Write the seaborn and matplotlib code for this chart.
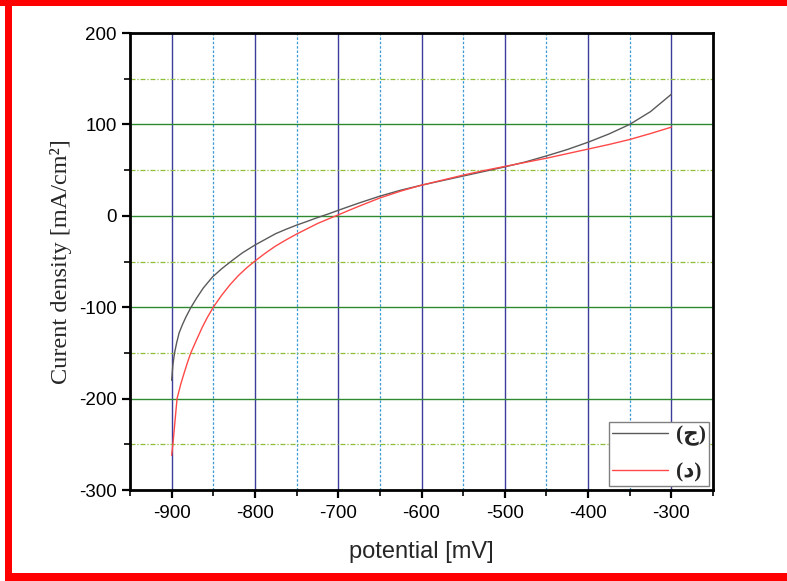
import numpy as np
import pandas as pd
import matplotlib
matplotlib.use("Agg")
import matplotlib.pyplot as plt
from matplotlib.patches import Rectangle
from matplotlib.ticker import MultipleLocator
import seaborn as sns

# ---- data ----
x_jeem = [-900, -898.5, -896.5, -894, -891, -887, -883, -877, -870, -862, -851, -840,
          -827.5, -815, -800, -787, -775, -762, -750, -737, -725, -712, -700, -675,
          -650, -625, -600, -575, -550, -525, -500, -475, -450, -425, -400, -375,
          -350, -325, -300]
y_jeem = [-180, -163, -150, -139, -128, -119, -111, -100.5, -90, -79, -67, -58,
          -49, -40.5, -32, -25.5, -19.5, -14.5, -10.2, -6, -2, 2, 6, 14,
          21.5, 28, 33.5, 38.5, 43.5, 48.5, 53.5, 59, 65.5, 72.5, 80.5, 89.5,
          100, 114, 133]

x_dal = [-900, -898.5, -896, -893.5, -889, -885, -881, -877, -870, -863, -857, -850,
         -840, -830, -820, -810, -800, -787, -775, -762, -750, -737, -725, -712,
         -700, -687, -675, -650, -625, -600, -575, -550, -525, -500, -475, -450,
         -425, -400, -375, -350, -325, -300]
y_dal = [-262, -250, -225, -200, -184, -172, -160.5, -150, -135.5, -121.5, -111, -100,
         -87, -75.5, -65.5, -57, -49.5, -40.5, -33, -26, -20, -14, -8.5, -3.5,
         1, 6, 10.5, 19.5, 27, 33.5, 39, 44.5, 49.5, 54, 58.5, 63,
         68, 73, 78, 83.5, 90, 97]

labels = ["(ج)", "(د)"]
colors = ["#5a5a5a", "#ff4848"]

df = pd.concat([
    pd.DataFrame({"potential": x_jeem, "current": y_jeem, "series": labels[0]}),
    pd.DataFrame({"potential": x_dal, "current": y_dal, "series": labels[1]}),
], ignore_index=True)

sns.set_style("white")
plt.rcParams["axes.unicode_minus"] = False
W, H = 787, 581
fig = plt.figure(figsize=(W / 100, H / 100), dpi=100)
fig.patch.set_facecolor("white")
ax = fig.add_axes([130 / W, 1 - 490 / H, (713 - 130) / W, (490 - 33) / H])

sns.lineplot(data=df, x="potential", y="current", hue="series", palette=colors,
             hue_order=labels, linewidth=1.0, ax=ax, sort=False, estimator=None)

ax.set_xlim(-950, -250)
ax.set_ylim(-300, 200)
ax.xaxis.set_major_locator(MultipleLocator(100))
ax.xaxis.set_minor_locator(MultipleLocator(50))
ax.yaxis.set_major_locator(MultipleLocator(100))
ax.yaxis.set_minor_locator(MultipleLocator(50))

# grid
ax.grid(False)
ax.set_axisbelow(True)
ax.xaxis.grid(True, which="major", color="#3c3c9c", linewidth=1.0)
ax.xaxis.grid(True, which="minor", color="#3a9ad6", linewidth=0.9, linestyle=(0, (2, 1.5)))
ax.yaxis.grid(True, which="major", color="#2f8a2f", linewidth=1.0)
ax.yaxis.grid(True, which="minor", color="#8fbf3a", linewidth=0.9, linestyle=(0, (4, 1.5, 1, 1.5)))

for s in ax.spines.values():
    s.set_visible(True)
    s.set_color("black")
    s.set_linewidth(2.0)

ax.tick_params(which="major", direction="out", length=6, width=1.6, labelsize=13.5,
               bottom=True, left=True, top=False, right=False, colors="black")
ax.tick_params(axis="x", which="major", pad=5)
ax.tick_params(which="minor", direction="out", length=4, width=1.4,
               bottom=True, left=True, top=False, right=False)
for lab in ax.get_xticklabels() + ax.get_yticklabels():
    lab.set_family("Liberation Sans")

ax.set_xlabel("potential [mV]", fontsize=17, family="Liberation Sans")
ax.xaxis.label.set_va("center")
ax.xaxis.set_label_coords(0.5, -(552 - 490) / 457)
ax.set_ylabel("Curent density [mA/cm²]", fontsize=17.5, family="Liberation Serif")
ax.yaxis.label.set_va("center")
ax.yaxis.set_label_coords(-(130 - 61) / 583, 0.5)

leg = ax.legend(loc="lower right", bbox_to_anchor=(0.993, 0.009), borderaxespad=0,
                frameon=True, fancybox=False, edgecolor="#808080", framealpha=1,
                handlelength=2.6, borderpad=0.15, labelspacing=0.75, handletextpad=0.35,
                prop={"family": ["Liberation Serif", "DejaVu Sans"], "weight": "bold", "size": 15.5})
leg.get_frame().set_linewidth(1.0)

# red frame
red = "#ff0000"
fig.patches.append(Rectangle((0, 1 - 6 / H), 1, 6 / H, transform=fig.transFigure,
                             facecolor=red, edgecolor="none", zorder=10))
fig.patches.append(Rectangle((5 / W, 0), 7 / W, 1, transform=fig.transFigure,
                             facecolor=red, edgecolor="none", zorder=10))
fig.patches.append(Rectangle((5 / W, 0), 1 - 5 / W, 8 / H, transform=fig.transFigure,
                             facecolor=red, edgecolor="none", zorder=10))

fig.savefig("out.png", dpi=100)
